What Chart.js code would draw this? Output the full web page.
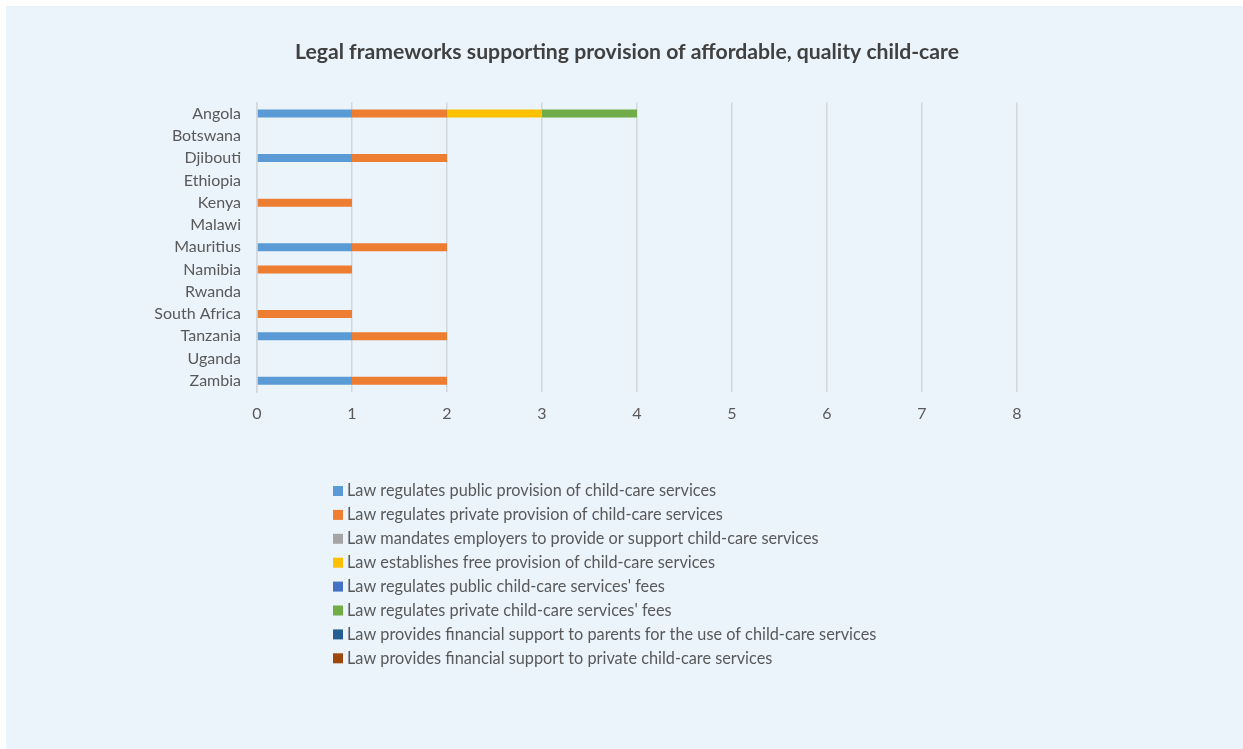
<!DOCTYPE html>
<html>
<head>
<meta charset="utf-8">
<script src="https://cdn.jsdelivr.net/npm/chart.js@4.4.1/dist/chart.umd.min.js"></script>
<style>
  html, body { margin: 0; padding: 0; background: #ffffff; }
  #wrap { position: absolute; left: 6px; top: 6px; width: 1237px; height: 743px; background: #EBF3FB; }
  canvas { display: block; }
</style>
</head>
<body>
<div id="wrap"><canvas id="c" width="1237" height="743"></canvas></div>
<script>
const countries = ["Angola","Botswana","Djibouti","Ethiopia","Kenya","Malawi","Mauritius","Namibia","Rwanda","South Africa","Tanzania","Uganda","Zambia"];

const seriesNames = [
  "Law regulates public provision of child-care services",
  "Law regulates private provision of child-care services",
  "Law mandates employers to provide or support child-care services",
  "Law establishes free provision of child-care services",
  "Law regulates public child-care services' fees",
  "Law regulates private child-care services' fees",
  "Law provides financial support to parents for the use of child-care services",
  "Law provides financial support to private child-care services"
];

const publicProvision   = [1,0,1,0,0,0,1,0,0,0,1,0,1];
const privateProvision  = [1,0,1,0,1,0,1,1,0,1,1,0,1];
const employerMandate   = [0,0,0,0,0,0,0,0,0,0,0,0,0];
const freeProvision     = [1,0,0,0,0,0,0,0,0,0,0,0,0];
const publicFees        = [0,0,0,0,0,0,0,0,0,0,0,0,0];
const privateFees       = [1,0,0,0,0,0,0,0,0,0,0,0,0];
const parentSupport     = [0,0,0,0,0,0,0,0,0,0,0,0,0];
const privateSupport    = [0,0,0,0,0,0,0,0,0,0,0,0,0];

const xTicks = [0,1,2,3,4,5,6,7,8];

const colors = ["#5B9BD5","#ED7D31","#A5A5A5","#FFC000","#4472C4","#70AD47","#255E91","#9E480E"];
const seriesValues = [publicProvision, privateProvision, employerMandate, freeProvision, publicFees, privateFees, parentSupport, privateSupport];

const FONT = "Lato, 'Open Sans', sans-serif";
const TXT = "#595959";
const GRID = "#D2D7DC";

const legendPlugin = {
  id: 'listLegend',
  afterDraw(chart) {
    const ctx = chart.ctx;
    ctx.save();
    ctx.font = "16.3px " + FONT;
    ctx.textBaseline = "middle";
    ctx.textAlign = "left";
    chart.data.datasets.forEach((ds, i) => {
      const y = 485 + i * 23.9;
      ctx.fillStyle = ds.backgroundColor;
      ctx.fillRect(327, y - 5, 10, 10);
      ctx.fillStyle = TXT;
      ctx.fillText(ds.label, 341, y);
    });
    ctx.restore();
  }
};

new Chart(document.getElementById('c'), {
  type: 'bar',
  data: {
    labels: countries,
    datasets: seriesNames.map((name, i) => ({
      label: name,
      data: seriesValues[i],
      backgroundColor: colors[i],
      borderWidth: 0,
      inflateAmount: 0,
      barThickness: 8
    }))
  },
  options: {
    indexAxis: 'y',
    responsive: false,
    animation: false,
    layout: { padding: { left: 5, right: 0, top: 0, bottom: 321 } },
    plugins: {
      legend: { display: false },
      tooltip: { enabled: false },
      title: {
        display: true,
        text: "Legal frameworks supporting provision of affordable, quality child-care",
        color: "#404040",
        font: { family: FONT, size: 21.2, weight: 'bold' },
        padding: { top: 33, bottom: 38 }
      }
    },
    scales: {
      x: {
        stacked: true,
        min: 0,
        max: 8,
        afterBuildTicks(axis) { axis.ticks = xTicks.map(v => ({ value: v })); },
        afterFit(axis) { axis.height = 36; },
        grid: { color: GRID, lineWidth: 1.5, drawTicks: false },
        border: { display: false },
        ticks: { color: TXT, font: { family: FONT, size: 16 }, padding: 12, stepSize: 1 }
      },
      y: {
        stacked: true,
        afterFit(axis) { axis.width = 246; },
        grid: { display: false, drawTicks: false },
        border: { display: true, color: GRID, width: 1.5 },
        ticks: { color: TXT, font: { family: FONT, size: 16 }, padding: 16 }
      },
      yRight: {
        type: 'category',
        position: 'right',
        labels: countries,
        afterFit(axis) { axis.width = 226; },
        grid: { display: false, drawTicks: false },
        border: { display: false },
        ticks: { display: false }
      }
    }
  },
  plugins: [legendPlugin]
});
</script>
</body>
</html>
